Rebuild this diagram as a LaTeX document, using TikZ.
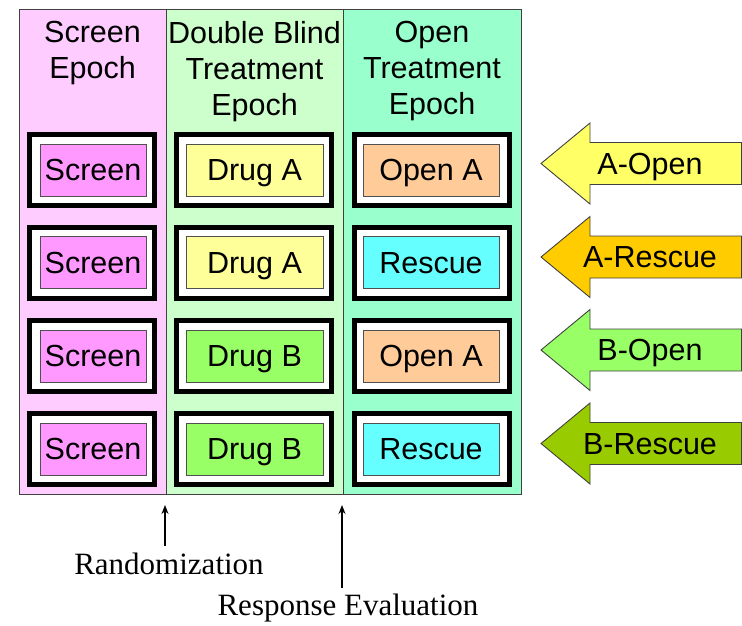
\documentclass[tikz,border=0pt]{standalone}
\usepackage{fontspec}
\setmainfont{Liberation Sans}
\newfontfamily\serifrm{Liberation Serif}
\usetikzlibrary{arrows.meta}
\definecolor{pinkbg}{HTML}{FFCCFF}
\definecolor{greenbg}{HTML}{CCFFCC}
\definecolor{tealbg}{HTML}{99FFCC}
\definecolor{screenc}{HTML}{FF99FF}
\definecolor{drugAc}{HTML}{FFFF99}
\definecolor{drugBc}{HTML}{99FF66}
\definecolor{openAc}{HTML}{FFCC99}
\definecolor{rescuec}{HTML}{66FFFF}
\definecolor{arrAO}{HTML}{FFFF66}
\definecolor{arrAR}{HTML}{FFCC00}
\definecolor{arrBO}{HTML}{99FF66}
\definecolor{arrBR}{HTML}{99CC00}
\definecolor{colline}{HTML}{404040}
\definecolor{boxline}{HTML}{505050}
\newcommand{\cellfont}{\fontsize{30.5}{36}\selectfont}
\begin{document}
\begin{tikzpicture}[x=1pt,y=-1pt,
  colbox/.style={draw=colline, line width=1pt, minimum height=485pt, inner sep=0},
  outerbox/.style={draw=black, line width=5pt, fill=white, minimum height=71pt, inner sep=0},
  innerbox/.style={draw=boxline, line width=0.9pt, minimum height=52pt, inner sep=0,
     text height=21.5pt, text depth=0pt, font=\cellfont},
  hdr/.style={anchor=north, align=center, inner sep=0, font=\cellfont},
  arrtxt/.style={inner sep=0, text height=21.5pt, text depth=0pt, font=\cellfont},
  bigarrow/.style={draw=colline, line width=0.9pt, line join=miter},
  evt/.style={font=\serifrm\fontsize{31}{37}\selectfont, anchor=base, inner sep=0},
  pointer/.style={-{Stealth[length=9pt,width=7pt]}, line width=1.3pt, draw=black}
]
\useasboundingbox (0,0) rectangle (742,625);
% columns
\node[colbox, fill=pinkbg, minimum width=147pt] (c1) at (92.5,251.5) {};
\node[colbox, fill=greenbg, minimum width=177pt] (c2) at (254.5,251.5) {};
\node[colbox, fill=tealbg, minimum width=178pt] (c3) at (432,251.5) {};
% headers
\node[hdr] (h1) at (92.5,21) {Screen\\Epoch};
\node[hdr] (h2) at (254.5,21) {Double Blind\\Treatment\\Epoch};
\node[hdr] (h3) at (432,21) {Open\\Treatment\\Epoch};
% rows
\foreach \r/\yy/\tb/\cb/\tc/\cc in {1/170/Drug A/drugAc/Open A/openAc,
                                   2/262.5/Drug A/drugAc/Rescue/rescuec,
                                   3/356/Drug B/drugBc/Open A/openAc,
                                   4/449/Drug B/drugBc/Rescue/rescuec}{
  \node[outerbox, minimum width=125pt] (oa\r) at (92,\yy) {};
  \node[outerbox, minimum width=155pt] (ob\r) at (254,\yy) {};
  \node[outerbox, minimum width=155pt] (oc\r) at (432,\yy) {};
  \node[innerbox, fill=screenc, minimum width=106pt] (ia\r) at (93,\yy) {Screen};
  \node[innerbox, fill=\cb, minimum width=137pt] (ib\r) at (254.5,\yy) {\tb};
  \node[innerbox, fill=\cc, minimum width=136pt] (ic\r) at (431,\yy) {\tc};
}
% big arrows
\foreach \n/\yy/\col/\txt in {1/163.5/arrAO/A-Open, 2/257/arrAR/A-Rescue,
                              3/350/arrBO/B-Open, 4/443.5/arrBR/B-Rescue}{
  \draw[bigarrow, fill=\col] (741.5,\yy-21) -- (590,\yy-21) -- (590,\yy-40.5)
     -- (541,\yy) -- (590,\yy+40.5) -- (590,\yy+21) -- (741.5,\yy+21) -- cycle;
  \node[arrtxt] (a\n) at (650,\yy) {\txt};
}
% bottom labels
\node[evt] (rand) at (169,574) {Randomization};
\node[evt] (resp) at (348,615) {Response Evaluation};
\coordinate (r0) at (165,546);
\coordinate (r1) at (165,505);
\coordinate (e0) at (342,588);
\coordinate (e1) at (342,505);
\draw[pointer] (r0) -- (r1);
\draw[pointer] (e0) -- (e1);
\end{tikzpicture}
\end{document}
